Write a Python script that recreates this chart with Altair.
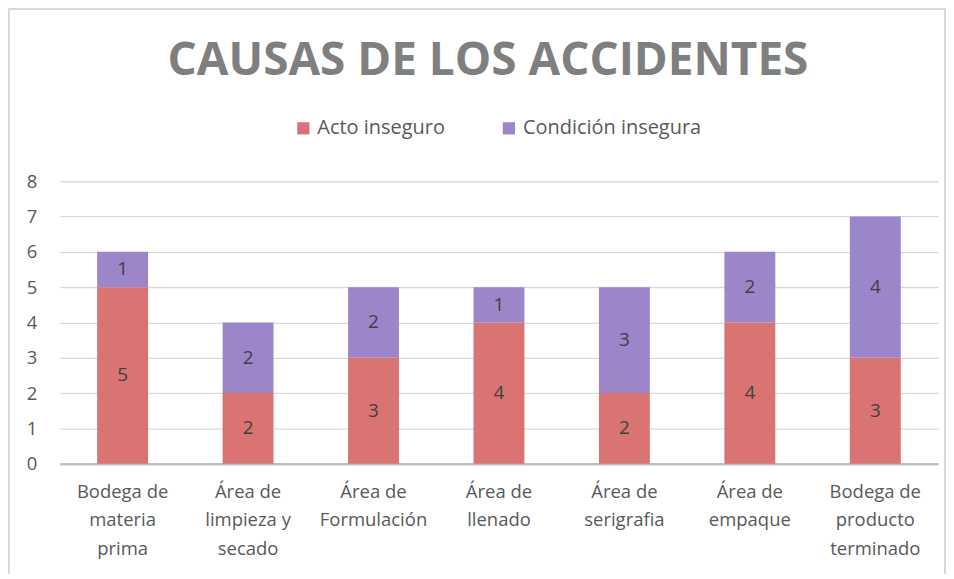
import altair as alt
import pandas as pd

title_text = "CAUSAS DE LOS ACCIDENTES"
categories = [
    "Bodega de\nmateria\nprima",
    "Área de\nlimpieza y\nsecado",
    "Área de\nFormulación",
    "Área de\nllenado",
    "Área de\nserigrafia",
    "Área de\nempaque",
    "Bodega de\nproducto\nterminado",
]
series = ["Acto inseguro", "Condición insegura"]
acto = [5, 2, 3, 4, 2, 4, 3]
condicion = [1, 2, 2, 1, 3, 2, 4]
colors = ["#da7472", "#9d85ca"]
yticks = [0, 1, 2, 3, 4, 5, 6, 7, 8]

rows = []
for c, a, b in zip(categories, acto, condicion):
    rows.append({"cat": c, "serie": series[0], "val": a, "ord": 0})
    rows.append({"cat": c, "serie": series[1], "val": b, "ord": 1})
df = pd.DataFrame(rows)

W, H = 880, 283
font = "Open Sans"
gray = "#595959"

base = alt.Chart(df).transform_stack(
    stack="val", groupby=["cat"], as_=["v0", "v1"], sort=[alt.SortField("ord")]
).transform_calculate(mid="(datum.v0 + datum.v1) / 2")

xscale = alt.Scale(paddingInner=0.594, paddingOuter=0.297)
yscale = alt.Scale(domain=[0, 8], nice=False)

xaxis = alt.Axis(labelExpr="split(datum.label, '\\n')", labelAngle=0,
                 labelFont=font, labelFontSize=18.5, labelColor=gray,
                 labelLineHeight=28.5, labelPadding=19, labelBaseline="top",
                 ticks=False, domainColor="#bfbfbf", domainWidth=2.5,
                 grid=False)
yaxis = alt.Axis(values=yticks, labelFont=font, labelFontSize=18.5,
                 labelColor=gray, ticks=False, domain=False,
                 gridColor="#d9d9d9", gridWidth=1.3, labelPadding=23)

bars = base.mark_bar().encode(
    x=alt.X("cat:N", sort=categories, title=None, scale=xscale, axis=xaxis),
    y=alt.Y("v0:Q", title=None, scale=yscale, axis=yaxis),
    y2="v1:Q",
    color=alt.Color("serie:N", sort=series,
                    scale=alt.Scale(domain=series, range=colors),
                    legend=alt.Legend(title=None, orient="none", direction="horizontal",
                                      legendX=234, legendY=-63, symbolType="square",
                                      symbolSize=150, symbolStrokeWidth=0,
                                      labelFont=font, labelFontSize=20, labelColor=gray,
                                      labelLimit=400, columnPadding=54, labelOffset=4)),
)

labels = base.mark_text(font=font, fontSize=19, color="#404040").encode(
    x=alt.X("cat:N", sort=categories, title=None, scale=xscale, axis=xaxis),
    y=alt.Y("mid:Q", title=None, scale=yscale, axis=yaxis),
    text=alt.Text("val:Q"),
)

frame = alt.Chart(df).mark_rect(fill=None, stroke="#d9d9d9", strokeWidth=1.5, clip=False).encode(
    x=alt.value(-51.5), x2=alt.value(887), y=alt.value(-172.5), y2=alt.value(396)
)

title = alt.Chart(pd.DataFrame({"t": [title_text]})).mark_text(
    font="Open Sans", fontSize=46, fontWeight="bold", color="#7f7f7f",
    align="center", baseline="alphabetic", clip=False
).encode(text="t:N", x=alt.value(429), y=alt.value(-106))

chart = alt.layer(frame, bars, labels, title).properties(
    width=W, height=H,
    autosize=alt.AutoSizeParams(type="none"),
    padding={"left": 52, "top": 173, "right": 8, "bottom": 110},
).configure_view(stroke=None)

chart.save("out.html", embed_options={"renderer": "svg", "actions": False})
